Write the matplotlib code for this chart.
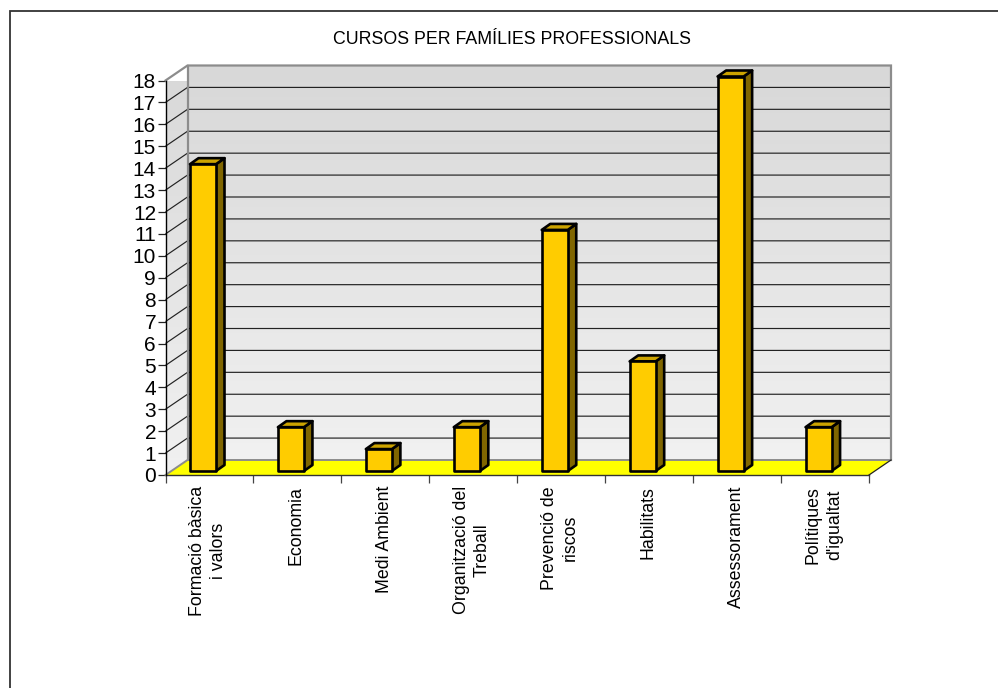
import numpy as np
import matplotlib
matplotlib.use("Agg")
import matplotlib.pyplot as plt
from matplotlib.lines import Line2D
from matplotlib.patches import Polygon
from matplotlib.colors import LinearSegmentedColormap

categories = ["Formació bàsica\ni valors", "Economia", "Medi Ambient", "Organització del\nTreball",
              "Prevenció de\nriscos", "Habilitats", "Assessorament", "Polítiques\nd'igualtat"]
values = [14, 2, 1, 2, 11, 5, 18, 2]
yticks = list(range(0, 19))
title = "CURSOS PER FAMÍLIES PROFESSIONALS"

W, H = 998, 688
plt.rcParams['font.family'] = ['Liberation Sans', 'DejaVu Sans']
fig = plt.figure(figsize=(W/100, H/100), dpi=100)

# outer frame: only the left and top edges are visible
fig.add_artist(Line2D([10/W, 10/W, 1], [0, 1-11/H, 1-11/H], transform=fig.transFigure,
                      color='#333333', lw=1.3, solid_joinstyle='miter'))

L, R, T, B = 165.5, 869.0, 80.5, 475.0
ax = fig.add_axes([L/W, 1-B/H, (R-L)/W, (B-T)/H])
n = len(categories); top = yticks[-1]
ppx = (R-L)/n; ppy = (B-T)/top
ddx, ddy = 22/ppx, 15/ppy        # wall depth in data units
cmap = LinearSegmentedColormap.from_list('w', ['#f1f1f1', '#d8d8d8'])
grad = np.linspace(0, 1, 256)[::-1].reshape(-1, 1)

# back wall
ax.imshow(grad, extent=(ddx, n+ddx, ddy, top+ddy), cmap=cmap, vmin=0, vmax=1,
          aspect='auto', clip_on=False, zorder=1)
# side wall
side = Polygon([(0, 0), (ddx, ddy), (ddx, top+ddy), (0, top)], closed=True, transform=ax.transData,
               fc='none', ec='none')
ax.add_patch(side)
im = ax.imshow(grad, extent=(0, ddx, 0, top+ddy), cmap=cmap, vmin=0, vmax=1,
               aspect='auto', clip_on=True, zorder=1)
im.set_clip_path(side)
ax.set_xlim(0, n); ax.set_ylim(0, top)

# gridlines
for v in yticks[1:-1]:
    ax.plot([0, ddx, n+ddx], [v, v+ddy, v+ddy], color='#222222', lw=0.85, clip_on=False, zorder=2,
            solid_capstyle='butt')
# wall borders
ax.plot([0, ddx, n+ddx, n+ddx], [top, top+ddy, top+ddy, ddy], color='#8c8c8c', lw=1.6,
        clip_on=False, zorder=3, solid_joinstyle='miter')
ax.plot([ddx, ddx], [ddy, top+ddy], color='#8c8c8c', lw=1.6, clip_on=False, zorder=3)
# floor
ax.add_patch(Polygon([(0, 0), (n, 0), (n+ddx, ddy), (ddx, ddy)], closed=True, fc='#ffff00',
                     ec='none', clip_on=False, zorder=3))
ax.plot([0, ddx, n+ddx], [0, ddy, ddy], color='#8c8c8c', lw=1.4, clip_on=False, zorder=3)
ax.plot([n, n+ddx], [0, ddy], color='#222222', lw=0.9, clip_on=False, zorder=3)

# bars
left, bw = 24.5/ppx, 26/ppx
base = 4/ppy
bdx, bdy = 8.5/ppx, 6/ppy
for i, v in enumerate(values):
    x0 = i+left; x1 = x0+bw; y0 = base; y1 = v+base
    kw = dict(closed=True, ec='black', lw=1.9, joinstyle='round', clip_on=False, zorder=5)
    ax.add_patch(Polygon([(x1, y0), (x1+bdx, y0+bdy), (x1+bdx, y1+bdy), (x1, y1)], fc='#806600', **kw))
    ax.add_patch(Polygon([(x0, y1), (x1, y1), (x1+bdx, y1+bdy), (x0+bdx, y1+bdy)], fc='#cca300', **kw))
    ax.add_patch(Polygon([(x0, y0), (x1, y0), (x1, y1), (x0, y1)], fc='#ffcc00', **kw))

for s in ['top', 'right']:
    ax.spines[s].set_visible(False)
ax.spines['left'].set_color('black'); ax.spines['left'].set_linewidth(1.0)
ax.spines['bottom'].set_color('#333333'); ax.spines['bottom'].set_linewidth(1.0)
ax.spines['left'].set_zorder(6); ax.spines['bottom'].set_zorder(4)

ax.set_yticks(yticks)
ax.set_yticklabels([str(v) for v in yticks], fontsize=15)
ax.tick_params(axis='y', length=5.8, width=0.9, color='#222222', pad=1)
ax.set_xticks(np.arange(n+1))
ax.set_xticklabels([''] * (n+1))
ax.tick_params(axis='x', length=5.8, width=0.9, color='#444444')
for i, c in enumerate(categories):
    ax.annotate(c, xy=(i+0.5, 0), xycoords='data', xytext=(-0.8, -8.0), textcoords='offset points',
                rotation=90, ha='center', va='top', multialignment='center', fontsize=12.8,
                linespacing=1.3, annotation_clip=False)

fig.text(512/W, 1-40/H, title, ha='center', va='center', fontsize=12.8)
fig.savefig('out.png', dpi=100)
